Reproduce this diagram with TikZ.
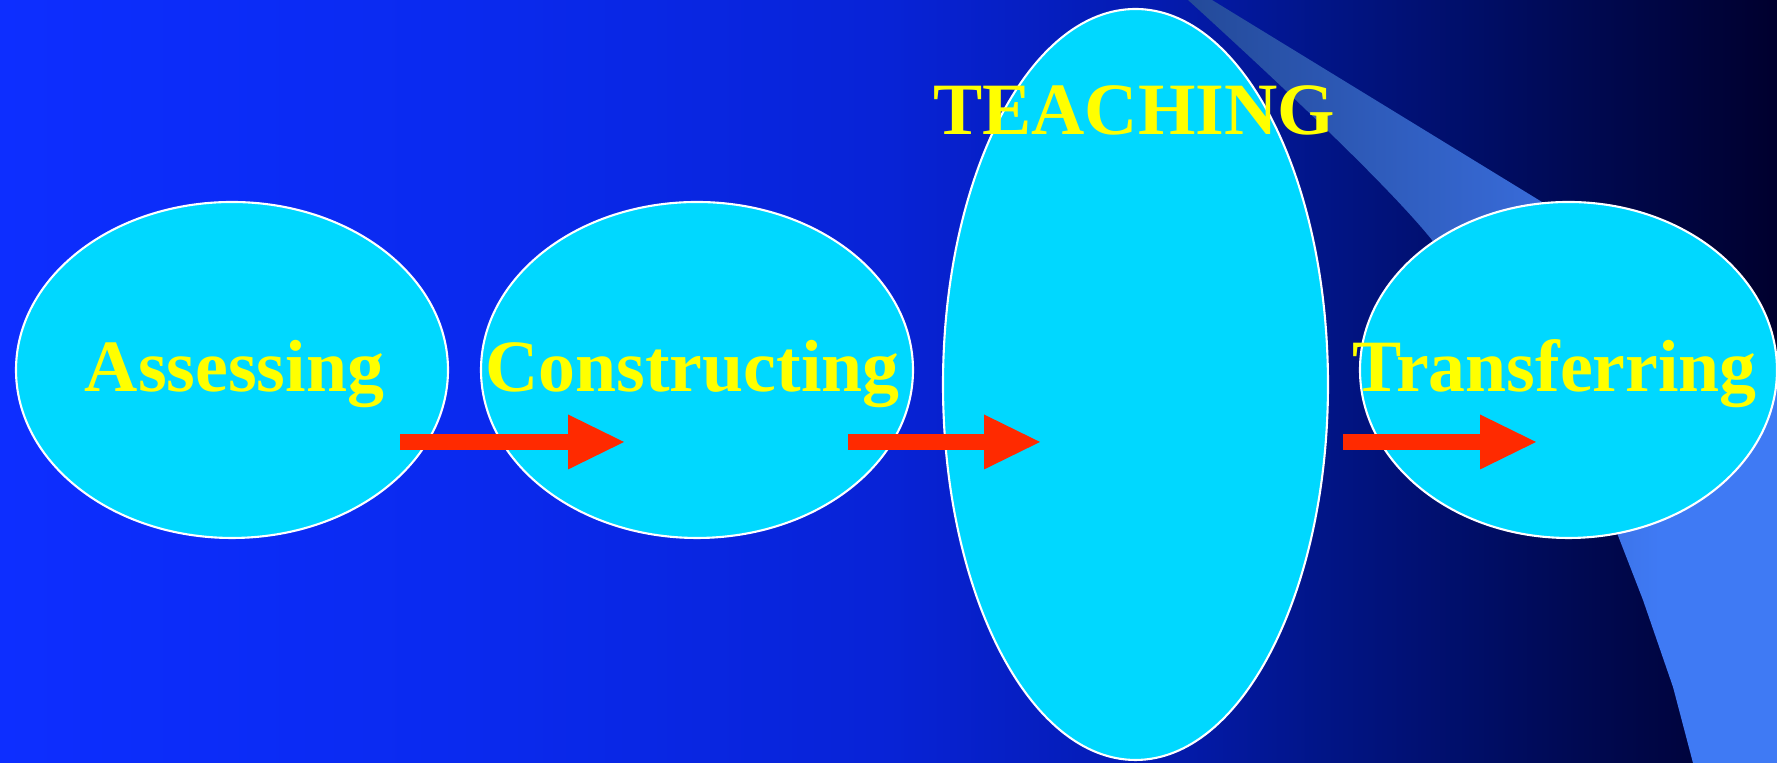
\documentclass[tikz,border=0pt]{standalone}
\usepackage{fontspec}
\setmainfont{Liberation Serif}
\usetikzlibrary{shapes.geometric,arrows.meta}

\definecolor{bulle}{RGB}{0,216,255}
\definecolor{fletxa}{RGB}{255,42,0}
\definecolor{groc}{RGB}{255,255,0}
% degradat del fons (d'esquerra a dreta)
\pgfdeclarehorizontalshading{fons}{100bp}{rgb(0bp)=(0.051,0.18,1); rgb(25bp)=(0.051,0.18,1);
  rgb(37.5bp)=(0.04,0.165,0.94); rgb(50bp)=(0.03,0.137,0.84); rgb(57.5bp)=(0.016,0.106,0.69);
  rgb(62.5bp)=(0.004,0.08,0.52); rgb(68.75bp)=(0,0.04,0.34); rgb(75bp)=(0,0,0.18); rgb(100bp)=(0,0,0.18)}
% degradat del feix de llum
\pgfdeclarehorizontalshading{feix}{100bp}{rgb(0bp)=(0.14,0.29,0.6); rgb(25bp)=(0.14,0.29,0.6);
  rgb(55bp)=(0.22,0.42,0.85); rgb(65bp)=(0.247,0.478,0.957); rgb(100bp)=(0.247,0.478,0.957)}

\begin{document}
\begin{tikzpicture}[
    bulla/.style={ellipse, draw=white, line width=0.6pt, fill=bulle, inner sep=0pt},
    etiqueta/.style={text=groc, font=\fontsize{21}{25}\selectfont\bfseries, anchor=base, inner sep=0pt},
    fletxa/.style={draw=fletxa, line width=0.16cm, -{Triangle[length=0.56cm, width=0.55cm, line width=0pt]}}
]
        % Fons
        \shade[shading=fons] (0,0) rectangle (17.77,7.63);
        \useasboundingbox (0,0) rectangle (17.77,7.63);
        % Feix de llum cap a la dreta
        \shade[shading=feix] (11.88,7.63) .. controls (12.9,6.7) and (13.9,5.75) .. (14.32,5.23)
              -- (16.17,2.30) -- (16.43,1.63) -- (16.73,0.76) -- (16.93,0) -- (17.77,0)
              -- (17.77,3.9) -- (15.42,5.61) -- (12.12,7.63) -- cycle;
        % Les quatre el·lipses
        \node[bulla, minimum width=4.32cm, minimum height=3.36cm] (ass) at (2.32,3.93) {};
        \node[bulla, minimum width=4.32cm, minimum height=3.36cm] (con) at (6.97,3.93) {};
        \node[bulla, minimum width=3.85cm, minimum height=7.51cm] (tea) at (11.355,3.785) {};
        \node[bulla, minimum width=4.17cm, minimum height=3.36cm] (tra) at (15.685,3.93) {};
        % Fletxes
        \coordinate (f1a) at (4.00,3.21);  \coordinate (f1b) at (6.24,3.21);
        \coordinate (f2a) at (8.48,3.21);  \coordinate (f2b) at (10.40,3.21);
        \coordinate (f3a) at (13.43,3.21); \coordinate (f3b) at (15.36,3.21);
        \draw[fletxa] (f1a) -- (f1b);
        \draw[fletxa] (f2a) -- (f2b);
        \draw[fletxa] (f3a) -- (f3b);
        % Textos
        \node[etiqueta] (tass) at (2.345,3.71) {Assessing};
        \node[etiqueta] (tcon) at (6.925,3.71) {Constructing};
        \node[etiqueta] (ttea) at (11.34,6.28) {TEACHING};
        \node[etiqueta] (ttra) at (15.545,3.71) {Transferring};
\end{tikzpicture}
\end{document}
